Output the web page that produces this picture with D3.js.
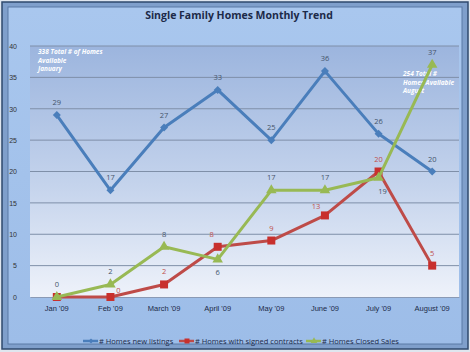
<!DOCTYPE html>
<html>
<head>
<meta charset="utf-8">
<script src="https://cdn.jsdelivr.net/npm/d3@7"></script>
<style>
  body { margin: 0; background: #fff; }
  svg { display: block; font-family: "Open Sans", "DejaVu Sans", sans-serif; }
</style>
</head>
<body>
<div id="chart"></div>
<script>
// single family homes - monthly trend

const months = ["Jan '09", "Feb '09", "March '09", "April '09", "May '09", "June '09", "July '09", "August '09"];
const newListings = [29, 17, 27, 33, 25, 36, 26, 20];
const signedContracts = [0, 0, 2, 8, 9, 13, 20, 5];
const closedSales = [0, 2, 8, 6, 17, 17, 19, 37];
const yTicks = [0, 5, 10, 15, 20, 25, 30, 35, 40];

const seriesNames = ["# Homes new listings", "# Homes with signed contracts", "# Homes Closed Sales"];
const colors = ["#4a7ebb", "#be4b48", "#98b954"];
const labelColors = ["#44546a", "#c0504d", "#44546a"];
// label offsets per point (dx, dy) - picked by eye, null = no label
const labelPos = [
  [[0,-10],[0,-10],[0,-10],[0,-10],[0,-10],[0,-10],[0,-10],[0,-10]],
  [null,[8,-4],[0,-10],[-6,-10],[0,-10],[-9,-6],[0,-10],[0,-10]],
  [[0,-10],[0,-10],[0,-10],[0,16],[0,-10],[0,-10],[4,16],[0,-10]]
];

const W = 470, H = 352;
const m = {left: 30, right: 11, top: 46, bottom: 55};

const svg = d3.select("#chart").append("svg")
  .attr("width", W).attr("height", H);

const defs = svg.append("defs");
const bg = defs.append("linearGradient").attr("id", "bg").attr("x1", 0).attr("y1", 0).attr("x2", 0).attr("y2", 1);
bg.append("stop").attr("offset", "0%").attr("stop-color", "#a9c7ee");
bg.append("stop").attr("offset", "100%").attr("stop-color", "#9dbde8");
const pg = defs.append("linearGradient").attr("id", "plotbg").attr("x1", 0).attr("y1", 0).attr("x2", 0).attr("y2", 1);
pg.append("stop").attr("offset", "0%").attr("stop-color", "#9cb5de");
pg.append("stop").attr("offset", "55%").attr("stop-color", "#c4d3ec");
pg.append("stop").attr("offset", "100%").attr("stop-color", "#eef2fa");

// frame with bevel
svg.append("rect").attr("x", 0).attr("y", 0).attr("width", W).attr("height", H).attr("fill", "#dfe6ef");
svg.append("rect").attr("x", 2).attr("y", 2).attr("width", W - 4).attr("height", H - 5)
   .attr("fill", "#7f9fcb").attr("stroke", "#2f4a6e").attr("stroke-width", 1.5);
svg.append("rect").attr("x", 8).attr("y", 7).attr("width", W - 16).attr("height", H - 15)
   .attr("fill", "url(#bg)").attr("stroke", "#5a7aa6").attr("stroke-width", 1);

svg.append("text")
   .attr("x", W / 2 + 4).attr("y", 19)
   .attr("text-anchor", "middle")
   .attr("font-size", "10.5px").attr("font-weight", "bold")
   .attr("fill", "#1c2a48")
   .text("Single Family Homes Monthly Trend");

const x = d3.scaleBand().domain(months).range([m.left, W - m.right]);
const y = d3.scaleLinear().domain([0, 40]).range([H - m.bottom, m.top]);
const cx = d => x(d) + x.bandwidth() / 2;

svg.append("rect")
   .attr("x", m.left).attr("y", m.top)
   .attr("width", W - m.left - m.right).attr("height", y(0) - m.top)
   .attr("fill", "url(#plotbg)");

// gridlines
svg.append("g").selectAll("line").data(yTicks.slice(1)).join("line")
   .attr("x1", m.left).attr("x2", W - m.right)
   .attr("y1", d => y(d)).attr("y2", d => y(d))
   .attr("stroke", "#7f8fa8").attr("stroke-width", 1);

// axes
const yAxis = svg.append("g")
   .attr("transform", `translate(${m.left},0)`)
   .call(d3.axisLeft(y).tickValues(yTicks).tickSize(0).tickPadding(13));
yAxis.select(".domain").remove();
yAxis.selectAll("text").attr("font-size", "7px").attr("fill", "#333");

const xAxis = svg.append("g")
   .attr("transform", `translate(0,${y(0)})`)
   .call(d3.axisBottom(x).tickSize(0).tickPadding(9));
xAxis.select(".domain").attr("stroke", "#8a9ab5");
xAxis.selectAll("text").attr("font-size", "7.5px").attr("fill", "#1c2a48");

// annotations
const note1 = svg.append("text").attr("fill", "#fff").attr("font-size", "6.5px")
   .attr("font-weight", "bold").attr("font-style", "italic");
["338 Total # of Homes", "Available", "January"].forEach((t, i) =>
  note1.append("tspan").attr("x", 38).attr("y", 54 + i * 8.5).text(t));
const note2 = svg.append("text").attr("fill", "#fff").attr("font-size", "6.5px")
   .attr("font-weight", "bold").attr("font-style", "italic");
["254 Total #", "Homes Available", "August"].forEach((t, i) =>
  note2.append("tspan").attr("x", 403).attr("y", 76 + i * 8.5).text(t));

// series
const allSeries = [newListings, signedContracts, closedSales];
const line = d3.line().x((d, i) => cx(months[i])).y(d => y(d));

function marker(g, k, color, s) {
  if (k === 0) {
    g.append("path").attr("d", `M0,${-s}L${s},0L0,${s}L${-s},0Z`).attr("fill", color);
  } else if (k === 1) {
    g.append("rect").attr("x", -s).attr("y", -s).attr("width", 2 * s).attr("height", 2 * s).attr("fill", "#c8302d");
  } else {
    g.append("path").attr("d", d3.symbol(d3.symbolTriangle, s * s * 3)()).attr("fill", color);
  }
}

allSeries.forEach((vals, k) => {
  svg.append("path").datum(vals)
     .attr("d", line)
     .attr("fill", "none")
     .attr("stroke", colors[k])
     .attr("stroke-width", 3)
     .attr("stroke-linejoin", "round");
  vals.forEach((v, i) => {
    const g = svg.append("g").attr("transform", `translate(${cx(months[i])},${y(v)})`);
    marker(g, k, colors[k], 4);
  });
});

allSeries.forEach((vals, k) => {
  vals.forEach((v, i) => {
    const pos = labelPos[k][i];
    if (!pos) return;
    svg.append("text")
       .attr("x", cx(months[i]) + pos[0]).attr("y", y(v) + pos[1])
       .attr("text-anchor", "middle")
       .attr("font-size", "7.5px")
       .attr("fill", labelColors[k])
       .text(v);
  });
});

// legend
const legendX = [83, 179, 306];
seriesNames.forEach((name, k) => {
  const g = svg.append("g").attr("transform", `translate(${legendX[k]},341)`);
  g.append("line").attr("x1", 0).attr("x2", 15).attr("stroke", colors[k]).attr("stroke-width", 2.5);
  const mg = g.append("g").attr("transform", "translate(8,0)");
  marker(mg, k, colors[k], 2.5);
  g.append("text").attr("x", 16).attr("y", 2.5)
   .attr("font-size", "7.5px").attr("fill", "#1c2a48").text(name);
});
</script>
</body>
</html>
